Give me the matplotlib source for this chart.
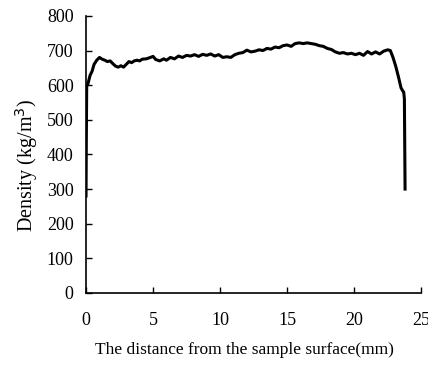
import matplotlib
matplotlib.use('Agg')
import matplotlib.pyplot as plt

# distance from sample surface (mm) and density (kg/m3)
dist = [0.00, 0.02, 0.05, 0.15, 0.3, 0.45, 0.6, 0.8, 1.0, 1.2, 1.4, 1.6, 1.8,
        2.0, 2.2, 2.4, 2.6, 2.8, 3.0, 3.2, 3.4, 3.6, 3.8, 4.0, 4.2, 4.5, 4.8,
        5.0, 5.2, 5.5, 5.8, 6.0, 6.3, 6.6, 6.9, 7.2, 7.5, 7.8, 8.1, 8.4, 8.7,
        9.0, 9.3, 9.6, 9.9, 10.2, 10.5, 10.8, 11.1, 11.4, 11.7, 12.0, 12.3,
        12.6, 12.9, 13.2, 13.5, 13.8, 14.1, 14.4, 14.7, 15.0, 15.3, 15.6, 15.9,
        16.2, 16.5, 16.8, 17.1, 17.4, 17.7, 18.0, 18.3, 18.6, 18.9, 19.2, 19.5,
        19.8, 20.1, 20.4, 20.7, 21.0, 21.3, 21.6, 21.9, 22.2, 22.5, 22.7, 22.9,
        23.1, 23.3, 23.5, 23.65, 23.7, 23.75, 23.8]
density = [280, 430, 596, 605, 628, 640, 660, 672, 680, 675, 672, 668, 670,
           662, 655, 652, 656, 652, 660, 668, 665, 670, 672, 670, 675, 676, 680,
           683, 674, 670, 676, 672, 680, 676, 684, 680, 686, 684, 688, 683, 689,
           686, 690, 684, 688, 680, 682, 680, 688, 692, 694, 701, 696,
           698, 702, 700, 706, 704, 710, 708, 714, 716, 712, 720, 722,
           720, 722, 720, 718, 714, 712, 706, 703, 696, 692, 694, 690,
           692, 688, 692, 686, 697, 690, 696, 690, 698, 702, 700, 680,
           655, 625, 592, 582, 580, 560, 300]

xticks = [0, 5, 10, 15, 20, 25]
yticks = [0, 100, 200, 300, 400, 500, 600, 700, 800]

plt.rcParams['font.family'] = 'Liberation Serif'
plt.rcParams['font.size'] = 13

fig = plt.figure(figsize=(4.28, 3.69), dpi=100)
ax = fig.add_axes([0.201, 0.206, 0.783, 0.751])

ax.plot(dist, density, color='black', linewidth=2.2)

ax.set_xlim(0, 25)
ax.set_ylim(0, 800)
ax.set_xticks(xticks)
ax.set_yticks(yticks)
ax.spines['top'].set_visible(False)
ax.spines['right'].set_visible(False)
ax.spines['left'].set_linewidth(1.2)
ax.spines['bottom'].set_linewidth(1.2)
ax.tick_params(axis='x', direction='in', length=4, width=1, pad=14)
ax.tick_params(axis='y', direction='in', length=4, width=1, pad=9)

ax.set_xlabel('The distance from the sample surface(mm)', fontsize=12.5, labelpad=9)
ax.set_ylabel('Density (kg/m$^3$)', fontsize=14.5, labelpad=5)
ax.xaxis.label.set_x(0.473)
ax.yaxis.label.set_y(0.46)

fig.savefig('out.png', dpi=100)
